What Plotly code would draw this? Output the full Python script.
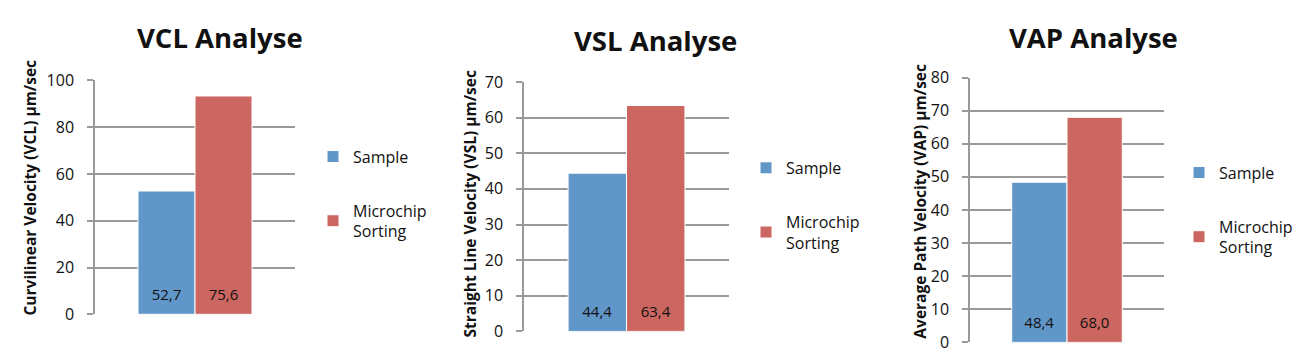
import plotly.graph_objects as go

W, H = 1300, 361

titles = ["VCL Analyse", "VSL Analyse", "VAP Analyse"]
ytitles = ["Curvilinear Velocity (VCL) µm/sec",
           "Straight Line Velocity (VSL) µm/sec",
           "Average Path Velocity (VAP) µm/sec"]
series_names = ["Sample", "Microchip<br>Sorting"]
sample_values = [52.7, 44.4, 48.4]
microchip_values = [93.3, 63.4, 68.0]
sample_labels = ["52,7", "44,4", "48,4"]
microchip_labels = ["75,6", "63,4", "68,0"]
y_max = [100, 70, 80]
y_dtick = [20, 10, 10]

colors = ["#6196C9", "#CC6660"]

# layout geometry in pixels: (x_left, x_right, y_zero_px, y_top_px)
geom = [(95, 295, 323, 73.8), (524, 729, 341.2, 75.6), (970, 1164, 352.9, 70.9)]
title_pos = [(220, 28), (655, 31), (1093, 28)]
ytitle_pos = [(30, 188), (470, 206), (920, 203)]
legend_pos = [(313, 137), (746, 149), (1179, 154)]

FONT = "Open Sans"
fig = go.Figure()
annotations = []


def bar_text(s):
    # label with a small spacer line beneath, to lift it off the bar base
    return f"<span style='font-size:15px'>{s}</span><br>\u00a0"


for i in range(3):
    sfx = "" if i == 0 else str(i + 1)
    leg = "legend" if i == 0 else f"legend{i+1}"
    vals = [sample_values[i], microchip_values[i]]
    labs = [sample_labels[i], microchip_labels[i]]
    for j in range(2):
        fig.add_trace(go.Bar(
            x=["A"], y=[vals[j]], name=series_names[j],
            text=[bar_text(labs[j])], textposition="inside",
            insidetextanchor="start",
            textfont=dict(size=7, color="#111", family=FONT),
            marker=dict(color=colors[j], line=dict(color="white", width=1)),
            xaxis="x" + sfx, yaxis="y" + sfx, legend=leg,
            legendgroup=f"g{i}{j}", hoverinfo="skip",
        ))
    xl, xr, y0, yt = geom[i]
    fig.layout["xaxis" + sfx] = dict(
        domain=[xl / W, xr / W], anchor="y" + sfx, showticklabels=False,
        showgrid=False, showline=False, zeroline=False, fixedrange=True,
    )
    fig.layout["yaxis" + sfx] = dict(
        domain=[(H - y0) / H, (H - yt) / H], anchor="x" + sfx,
        range=[0, y_max[i]], dtick=y_dtick[i], tick0=0,
        showgrid=True, gridcolor="#9a9a9a", gridwidth=1.5,
        showline=True, linecolor="#9a9a9a", linewidth=1.5,
        ticks="outside", ticklen=6, tickcolor="#9a9a9a", tickwidth=1.5,
        ticklabelstandoff=10,
        tickfont=dict(size=16, color="#111", family=FONT),
        zeroline=False, fixedrange=True,
    )
    tx, ty = title_pos[i]
    annotations.append(dict(
        text=f"<b>{titles[i]}</b>", x=tx / W, y=(H - ty) / H,
        xref="paper", yref="paper", showarrow=False,
        xanchor="center", yanchor="middle",
        font=dict(size=27.5, color="#111", family=FONT),
    ))
    ax_, ay_ = ytitle_pos[i]
    annotations.append(dict(
        text=f"<b>{ytitles[i]}</b>", x=ax_ / W, y=(H - ay_) / H,
        xref="paper", yref="paper", showarrow=False, textangle=-90,
        xanchor="center", yanchor="middle",
        font=dict(size=15.5, color="#111", family=FONT),
    ))
    lx, ly = legend_pos[i]
    fig.layout[leg] = dict(
        x=lx / W, y=(H - ly) / H, xanchor="left", yanchor="top",
        font=dict(size=16, color="#111", family=FONT),
        tracegroupgap=30, itemwidth=30, bgcolor="rgba(0,0,0,0)",
        itemclick=False, itemdoubleclick=False,
    )

fig.update_layout(
    width=W, height=H, margin=dict(l=0, r=0, t=0, b=0),
    paper_bgcolor="white", plot_bgcolor="white",
    barmode="group", bargap=0.43, bargroupgap=0.0,
    annotations=annotations, showlegend=True,
    font=dict(family=FONT),
)

fig.write_html(
    "out.html", config={"displayModeBar": False},
    post_script="document.body.style.margin='0';"
                "document.documentElement.style.overflow='hidden';",
)
